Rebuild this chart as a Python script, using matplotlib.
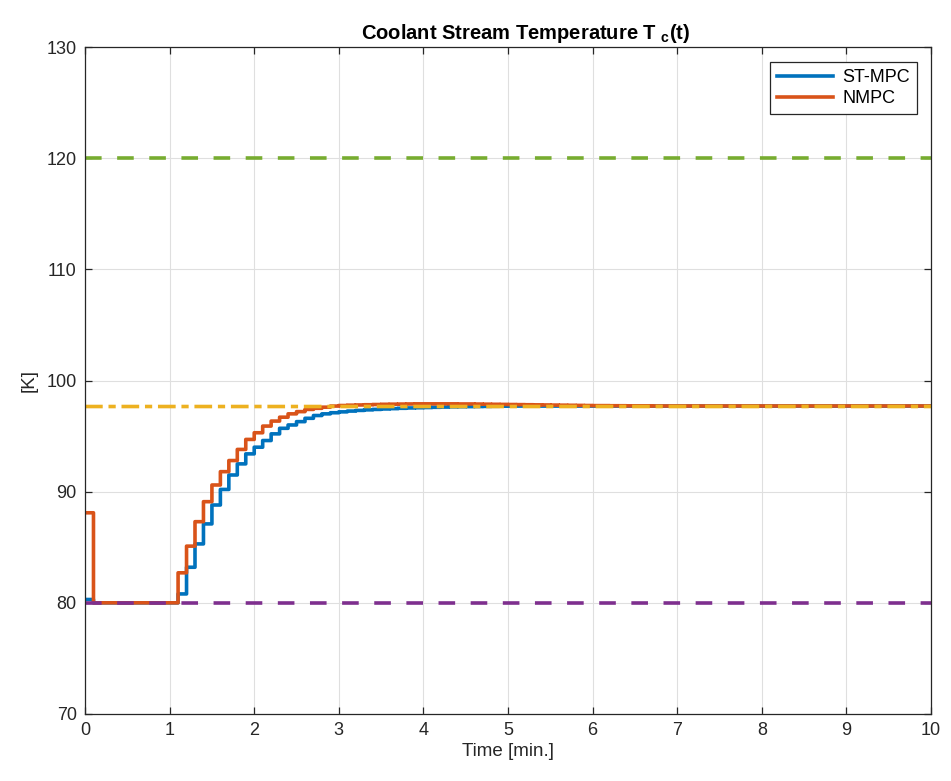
import numpy as np
import matplotlib
matplotlib.use("Agg")
import matplotlib.pyplot as plt

plt.rcParams['font.family'] = ['Liberation Sans', 'DejaVu Sans']
plt.rcParams['mathtext.fontset'] = 'custom'
plt.rcParams['mathtext.rm'] = 'Liberation Sans'
plt.rcParams['mathtext.bf'] = 'Liberation Sans:bold'

# sample instants (0.1 min sampling)
t = np.round(np.arange(0, 101) * 0.1, 2)

# ST-MPC coolant temperature [K]
tc_stmpc = [80.3] + [80.0] * 10 + [
    80.8, 83.2, 85.3, 87.1, 88.8, 90.2, 91.5, 92.5, 93.4, 94.0,
    94.6, 95.2, 95.7, 96.0, 96.3, 96.6, 96.85, 97.0, 97.1, 97.18,
    97.25, 97.31, 97.36, 97.4, 97.44, 97.47, 97.5, 97.53, 97.55, 97.57,
    97.59, 97.61, 97.63, 97.64, 97.65, 97.66, 97.67, 97.68, 97.69, 97.7,
    97.7, 97.7, 97.7, 97.7, 97.7, 97.7, 97.7, 97.7, 97.7, 97.7,
    97.7, 97.7, 97.7, 97.7, 97.7, 97.7, 97.7, 97.7, 97.7, 97.7,
    97.7, 97.7, 97.7, 97.7, 97.7, 97.7, 97.7, 97.7, 97.7, 97.7,
    97.7, 97.7, 97.7, 97.7, 97.7, 97.7, 97.7, 97.7, 97.7, 97.7,
    97.7, 97.7, 97.7, 97.7, 97.7, 97.7, 97.7, 97.7, 97.7, 97.7]

# NMPC coolant temperature [K]
tc_nmpc = [88.1] + [80.0] * 10 + [
    82.7, 85.1, 87.3, 89.1, 90.6, 91.8, 92.8, 93.8, 94.7, 95.3,
    95.9, 96.35, 96.7, 97.0, 97.2, 97.4, 97.5, 97.6, 97.7, 97.75,
    97.78, 97.8, 97.82, 97.84, 97.86, 97.87, 97.88, 97.89, 97.9, 97.9,
    97.9, 97.9, 97.9, 97.89, 97.89, 97.88, 97.87, 97.86, 97.85, 97.84,
    97.83, 97.82, 97.81, 97.8, 97.79, 97.78, 97.77, 97.76, 97.75, 97.74,
    97.74, 97.73, 97.73, 97.72, 97.72, 97.72, 97.71, 97.71, 97.71, 97.71,
    97.71, 97.71, 97.71, 97.71, 97.71, 97.71, 97.71, 97.71, 97.71, 97.71,
    97.71, 97.71, 97.71, 97.71, 97.71, 97.71, 97.71, 97.71, 97.71, 97.71,
    97.71, 97.71, 97.71, 97.71, 97.71, 97.71, 97.71, 97.71, 97.71, 97.71]

tc_max = 120.0
tc_min = 80.0
tc_ref = 97.66

fig = plt.figure(figsize=(9.51, 7.81), dpi=100)
ax = fig.add_axes([0.0894, 0.0858, 0.8896, 0.854])

lw = 2.6
ax.plot(t, tc_stmpc, drawstyle='steps-post', color='#0072BD', lw=lw,
        label='ST-MPC', snap=False)
ax.plot(t, tc_nmpc, drawstyle='steps-post', color='#D95319', lw=lw,
        label='NMPC', snap=False)

ax.axhline(tc_max, color='#77AC30', lw=lw, dashes=(4.6, 4.3))
ax.axhline(tc_ref, color='#EDB120', lw=lw, dashes=(4.9, 1.6, 2.0, 1.6), snap=False)
ax.axhline(tc_min, color='#7E2F8E', lw=lw, dashes=(4.6, 4.3))

ax.set_xlim(0, 10)
ax.set_ylim(70, 130)
ax.set_xticks(range(0, 11))
ax.set_yticks(range(70, 131, 10))
ax.grid(True, color='#DFDFDF', lw=0.8)
ax.set_axisbelow(True)

for s in ax.spines.values():
    s.set_color('#262626')
    s.set_linewidth(0.9)
ax.tick_params(direction='in', length=5, width=0.9, colors='#262626',
               labelsize=13, top=True, right=True, pad=6)

ax.set_xlabel('Time [min.]', fontsize=13.5, color='#262626', labelpad=3)
ax.set_ylabel('[K]', fontsize=13.5, color='#262626', labelpad=6)
ax.set_title(r'Coolant Stream Temperature T $_\mathbf{c}$(t)', fontsize=14.5,
             fontweight='bold', pad=6, x=0.521)

leg = ax.legend(loc='upper right', bbox_to_anchor=(0.9835, 0.9775), fontsize=13,
                fancybox=False, framealpha=1, edgecolor='#262626',
                handlelength=3.1, handletextpad=0.5, borderpad=0.4,
                labelspacing=0.2, borderaxespad=0.0)
leg.get_frame().set_linewidth(0.9)

fig.savefig('out.png', dpi=100)
